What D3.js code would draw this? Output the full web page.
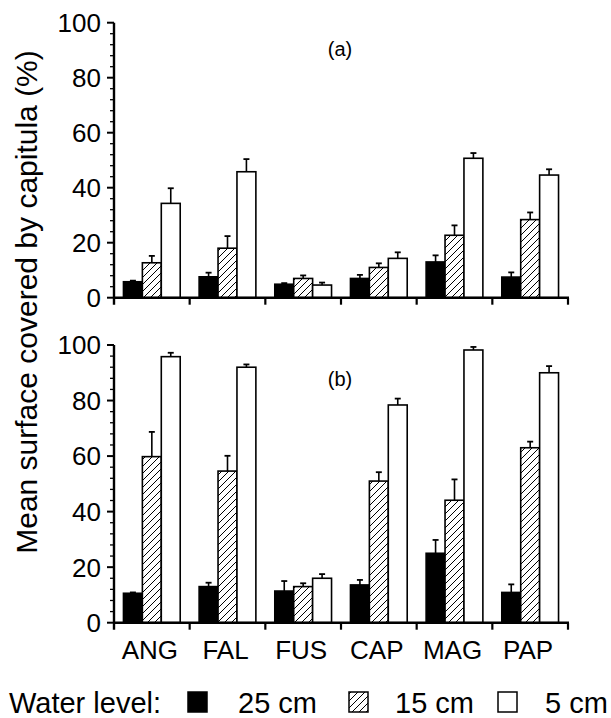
<!DOCTYPE html>
<html>
<head>
<meta charset="utf-8">
<script src="https://cdn.jsdelivr.net/npm/d3@7"></script>
<style>
  body { margin: 0; background: #fff; }
  svg { display: block; font-family: "Liberation Sans", Arial, sans-serif; }
</style>
</head>
<body>
<div id="chart"></div>
<script>
// species codes on the x axis
const categories = ["ANG", "FAL", "FUS", "CAP", "MAG", "PAP"];
const series = ["25 cm", "15 cm", "5 cm"];

// panel (a): means and upper error (mean + se), one row per water level
const meanA = [
    [5.8, 7.6, 4.9, 7.0, 13.0, 7.5],
    [12.7, 18.0, 7.0, 11.0, 22.7, 28.4],
    [34.3, 45.8, 4.6, 14.3, 50.7, 44.6]
];
const errA = [
    [6.2, 9.1, 5.3, 8.3, 15.4, 9.2],
    [15.2, 22.4, 8.1, 12.5, 26.3, 31.0],
    [39.8, 50.4, 5.5, 16.5, 52.6, 46.7]
];
// panel (b)
const meanB = [
    [10.6, 13.0, 11.4, 13.6, 25.0, 10.9],
    [59.8, 54.6, 13.0, 51.0, 44.1, 63.0],
    [95.8, 92.0, 16.0, 78.4, 98.2, 90.0]
];
const errB = [
    [10.9, 14.4, 15.0, 15.4, 29.8, 13.8],
    [68.7, 60.1, 14.2, 54.2, 51.6, 65.2],
    [97.2, 93.0, 17.5, 80.7, 99.3, 92.4]
];
const yTicks = [0, 20, 40, 60, 80, 100];

const width = 611, height = 718;
const svg = d3.select("#chart").append("svg")
    .attr("width", width)
    .attr("height", height);

// hatch pattern for the 15 cm bars
const defs = svg.append("defs");
defs.append("pattern")
    .attr("id", "hatch")
    .attr("patternUnits", "userSpaceOnUse")
    .attr("width", 7).attr("height", 7)
    .call(p => {
        p.append("rect").attr("width", 7).attr("height", 7).attr("fill", "#fff");
        p.append("path")
            .attr("d", "M-1,8 L8,-1 M-4.5,4.5 L4.5,-4.5 M2.5,11.5 L11.5,2.5")
            .attr("stroke", "#000").attr("stroke-width", 1);
    });

const fills = ["#000", "url(#hatch)", "#fff"];

let x = d3.scaleBand()
    .domain(categories)
    .range([114, 568])
    .padding(0);
let xs = d3.scaleBand()
    .domain(d3.range(series.length))
    .range([0, x.bandwidth()])
    .paddingOuter(0.5)
    .paddingInner(0);

function panel(top, bottom, means, errs, label, labelY, showCats) {
    let y = d3.scaleLinear().domain([0, 100]).range([bottom, top]);
    let g = svg.append("g");

    // minor ticks every 4 units
    let minor = d3.range(0, 101, 4).filter(d => d % 20 != 0);
    g.selectAll(".minor")
        .data(minor)
        .enter().append("line")
        .attr("x1", 110).attr("x2", 114)
        .attr("y1", d => y(d)).attr("y2", d => y(d))
        .attr("stroke", "#000").attr("stroke-width", 1.3);

    // major ticks + labels
    g.selectAll(".major")
        .data(yTicks)
        .enter().append("line")
        .attr("x1", 107).attr("x2", 114)
        .attr("y1", d => y(d)).attr("y2", d => y(d))
        .attr("stroke", "#000").attr("stroke-width", 2);
    g.selectAll(".ylab")
        .data(yTicks)
        .enter().append("text")
        .attr("x", 101)
        .attr("y", d => y(d))
        .attr("dy", "0.36em")
        .attr("text-anchor", "end")
        .style("font-size", "26px")
        .text(d => d);

    // bars
    let rows = [];
    means.forEach((row, s) => row.forEach((v, c) => {
        rows.push({s: s, cat: categories[c], v: v, e: errs[s][c]});
    }));

    // error bars first so bar outline sits on top
    let eb = g.selectAll(".err")
        .data(rows)
        .enter().append("g");
    eb.append("line")
        .attr("x1", d => x(d.cat) + xs(d.s) + xs.bandwidth() / 2)
        .attr("x2", d => x(d.cat) + xs(d.s) + xs.bandwidth() / 2)
        .attr("y1", d => y(d.v))
        .attr("y2", d => y(d.e))
        .attr("stroke", "#000").attr("stroke-width", 1.6);
    eb.append("line")
        .attr("x1", d => x(d.cat) + xs(d.s) + xs.bandwidth() / 2 - 3)
        .attr("x2", d => x(d.cat) + xs(d.s) + xs.bandwidth() / 2 + 3)
        .attr("y1", d => y(d.e))
        .attr("y2", d => y(d.e))
        .attr("stroke", "#000").attr("stroke-width", 1.8);

    g.selectAll(".bar")
        .data(rows)
        .enter().append("rect")
        .attr("x", d => x(d.cat) + xs(d.s))
        .attr("y", d => y(d.v))
        .attr("width", xs.bandwidth())
        .attr("height", d => y(0) - y(d.v))
        .attr("fill", d => fills[d.s])
        .attr("stroke", "#000")
        .attr("stroke-width", 1.6);

    // axes
    g.append("line")
        .attr("x1", 114).attr("x2", 114)
        .attr("y1", y(100)).attr("y2", y(0) + 7)
        .attr("stroke", "#000").attr("stroke-width", 2.4);
    g.append("line")
        .attr("x1", 113).attr("x2", 569)
        .attr("y1", y(0)).attr("y2", y(0))
        .attr("stroke", "#000").attr("stroke-width", 2.6);
    let bounds = categories.map(c => x(c) + x.bandwidth());
    g.selectAll(".xtick")
        .data(bounds)
        .enter().append("line")
        .attr("x1", d => d).attr("x2", d => d)
        .attr("y1", y(0)).attr("y2", y(0) + 7)
        .attr("stroke", "#000").attr("stroke-width", 2.2);

    if (showCats) {
        g.selectAll(".xlab")
            .data(categories)
            .enter().append("text")
            .attr("x", d => x(d) + x.bandwidth() / 2 - 2)
            .attr("y", bottom + 36)
            .attr("text-anchor", "middle")
            .style("font-size", "26px")
            .text(d => d);
    }

    g.append("text")
        .attr("x", 340)
        .attr("y", labelY)
        .attr("text-anchor", "middle")
        .style("font-size", "20px")
        .text(label);
}

panel(22.7, 297.7, meanA, errA, "(a)", 56, false);
panel(345, 622.7, meanB, errB, "(b)", 386, true);

// y title
svg.append("text")
    .attr("transform", "translate(37,302) rotate(-90)")
    .attr("text-anchor", "middle")
    .style("font-size", "30px")
    .text("Mean surface covered by capitula (%)");

// legend
let leg = svg.append("g");
leg.append("text")
    .attr("x", 9).attr("y", 713)
    .style("font-size", "29px")
    .text("Water level:");
let legX = [188, 349, 498];
let legTextX = [238, 395, 545];
leg.selectAll("rect")
    .data(series)
    .enter().append("rect")
    .attr("x", (d, i) => legX[i])
    .attr("y", 692)
    .attr("width", 19).attr("height", 20)
    .attr("fill", (d, i) => fills[i])
    .attr("stroke", "#000")
    .attr("stroke-width", 1.5);
leg.selectAll(".lt")
    .data(series)
    .enter().append("text")
    .attr("x", (d, i) => legTextX[i])
    .attr("y", 713)
    .style("font-size", "29px")
    .text(d => d);
</script>
</body>
</html>
